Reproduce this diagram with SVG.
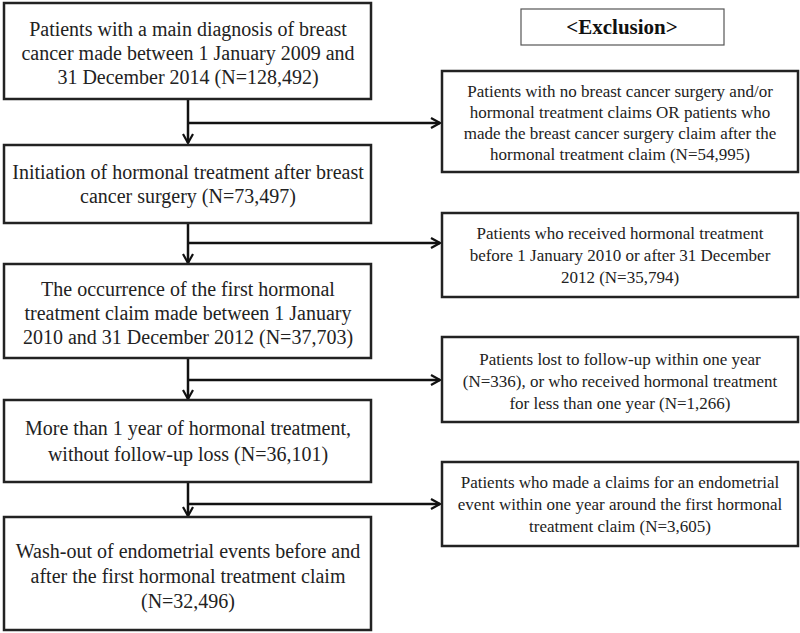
<svg xmlns="http://www.w3.org/2000/svg" width="800" height="633" viewBox="0 0 800 633">
<style>
.box{fill:#fff;stroke:#222;stroke-width:2.5}
.ex{fill:#fff;stroke:#555;stroke-width:1.2}
.lt{font-family:"Liberation Serif","Times New Roman",serif;font-size:20px;fill:#222;text-anchor:middle}
.rt{font-family:"Liberation Serif","Times New Roman",serif;font-size:17px;fill:#222;text-anchor:middle}
.hd{font-family:"Liberation Serif","Times New Roman",serif;font-size:21px;font-weight:bold;fill:#111;text-anchor:middle}
.ln{fill:none;stroke:#111;stroke-width:2.5}
</style>
<defs>
<marker id="arr" viewBox="0 0 12 12" refX="11" refY="6" markerWidth="12" markerHeight="12" markerUnits="userSpaceOnUse" orient="auto">
<path d="M2,1 L11,6 L2,11" fill="none" stroke="#111" stroke-width="2.2"/>
</marker>
</defs>
<g id="connectors">
<line class="ln" x1="188" y1="99" x2="188" y2="143" marker-end="url(#arr)"/>
<line class="ln" x1="188" y1="123" x2="440" y2="123" marker-end="url(#arr)"/>
<line class="ln" x1="188" y1="223" x2="188" y2="263" marker-end="url(#arr)"/>
<line class="ln" x1="188" y1="243" x2="440" y2="243" marker-end="url(#arr)"/>
<line class="ln" x1="188" y1="358" x2="188" y2="399" marker-end="url(#arr)"/>
<line class="ln" x1="188" y1="380" x2="440" y2="380" marker-end="url(#arr)"/>
<line class="ln" x1="188" y1="482" x2="188" y2="516" marker-end="url(#arr)"/>
<line class="ln" x1="188" y1="504" x2="440" y2="504" marker-end="url(#arr)"/>
</g>
<g id="exclusion">
<rect class="ex" x="521" y="9" width="203" height="36"/>
<text class="hd" x="622" y="34">&lt;Exclusion&gt;</text>
</g>
<g id="n1">
<rect class="box" x="4" y="3" width="367" height="96"/>
<text class="lt" x="188" y="36">Patients with a main diagnosis of breast</text>
<text class="lt" x="188" y="60">cancer made between 1 January 2009 and</text>
<text class="lt" x="188" y="84">31 December 2014 (N=128,492)</text>
</g>
<g id="n2">
<rect class="box" x="4" y="145" width="367" height="78"/>
<text class="lt" x="188" y="179">Initiation of hormonal treatment after breast</text>
<text class="lt" x="188" y="203">cancer surgery (N=73,497)</text>
</g>
<g id="n3">
<rect class="box" x="4" y="264" width="367" height="94"/>
<text class="lt" x="188" y="296">The occurrence of the first hormonal</text>
<text class="lt" x="188" y="320">treatment claim made between 1 January</text>
<text class="lt" x="188" y="344">2010 and 31 December 2012 (N=37,703)</text>
</g>
<g id="n4">
<rect class="box" x="4" y="400" width="367" height="82"/>
<text class="lt" x="188" y="435">More than 1 year of hormonal treatment,</text>
<text class="lt" x="188" y="461">without follow-up loss (N=36,101)</text>
</g>
<g id="n5">
<rect class="box" x="4" y="517" width="367" height="113"/>
<text class="lt" x="188" y="558">Wash-out of endometrial events before and</text>
<text class="lt" x="188" y="583">after the first hormonal treatment claim</text>
<text class="lt" x="188" y="608">(N=32,496)</text>
</g>
<g id="r1">
<rect class="box" x="442" y="71" width="356" height="101"/>
<text class="rt" x="620" y="97">Patients with no breast cancer surgery and/or</text>
<text class="rt" x="620" y="118">hormonal treatment claims OR patients who</text>
<text class="rt" x="620" y="139">made the breast cancer surgery claim after the</text>
<text class="rt" x="620" y="160">hormonal treatment claim (N=54,995)</text>
</g>
<g id="r2">
<rect class="box" x="442" y="213" width="356" height="84"/>
<text class="rt" x="620" y="239">Patients who received hormonal treatment</text>
<text class="rt" x="620" y="261">before 1 January 2010 or after 31 December</text>
<text class="rt" x="620" y="283">2012 (N=35,794)</text>
</g>
<g id="r3">
<rect class="box" x="442" y="337" width="356" height="85"/>
<text class="rt" x="620" y="365">Patients lost to follow-up within one year</text>
<text class="rt" x="620" y="387">(N=336), or who received hormonal treatment</text>
<text class="rt" x="620" y="409">for less than one year (N=1,266)</text>
</g>
<g id="r4">
<rect class="box" x="442" y="462" width="356" height="84"/>
<text class="rt" x="620" y="488">Patients who made a claims for an endometrial</text>
<text class="rt" x="620" y="510">event within one year around the first hormonal</text>
<text class="rt" x="620" y="532">treatment claim (N=3,605)</text>
</g>
</svg>
